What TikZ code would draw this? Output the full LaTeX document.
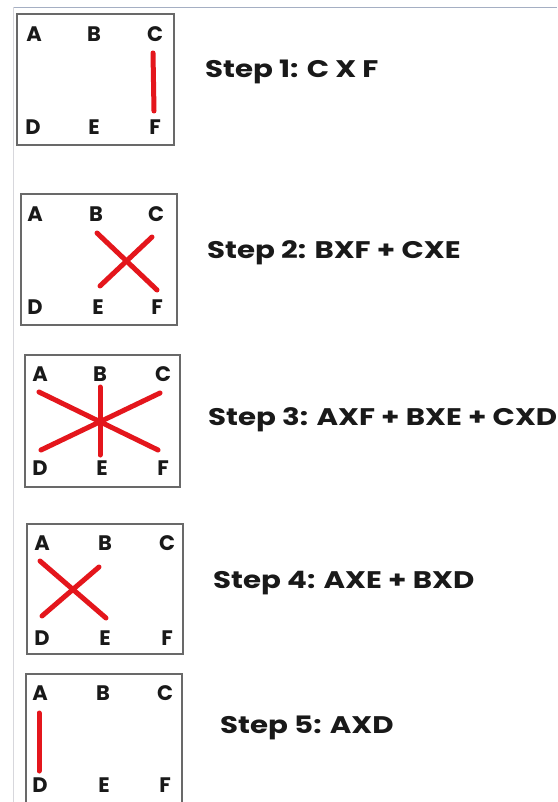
\documentclass[tikz,border=0pt]{standalone}
\usepackage{fontspec}
\setmainfont{Poppins}
\definecolor{redline}{RGB}{228,22,28}
\definecolor{boxgray}{RGB}{105,105,105}
\definecolor{topline}{RGB}{165,175,195}
\definecolor{sideline}{RGB}{215,215,220}
\newcommand\widetxt[1]{\scalebox{1.22}[1]{#1}}
\begin{document}
\begin{tikzpicture}[x=1pt,y=-1pt,
  lbl/.style={font=\fontsize{21}{21}\selectfont\bfseries, inner sep=0pt, text=black!90},
  steptxt/.style={font=\fontsize{24}{24}\selectfont\bfseries, inner sep=0pt, anchor=west, text=black!90},
  gridbox/.style={draw=boxgray, line width=1.4pt},
  cross/.style={draw=redline, line width=5pt, line cap=round}]
\useasboundingbox (0,0) rectangle (557,802);
\fill[white] (0,0) rectangle (557,802);
\draw[topline, line width=1.5pt] (13,7.5) -- (557,7.5);
\draw[sideline, line width=1pt] (13,7.5) -- (13,802);

% ---- Box 1
\draw[gridbox] (17,14) rectangle (174,145);
\node[lbl] (a1) at (34,34) {A};
\node[lbl] (b1) at (94,34) {B};
\node[lbl] (c1) at (155,34) {C};
\node[lbl] (d1) at (33,127) {D};
\node[lbl] (e1) at (94,127) {E};
\node[lbl] (f1) at (155,127) {F};
\coordinate (p1c) at (153,53);
\coordinate (p1f) at (154,111);
\draw[cross] (p1c) -- (p1f);
\node[steptxt] (s1) at (205,72) {\widetxt{Step 1: C X F}};

% ---- Box 2
\draw[gridbox] (21,194) rectangle (177,325);
\node[lbl] (a2) at (35,214) {A};
\node[lbl] (b2) at (96,214) {B};
\node[lbl] (c2) at (156,214) {C};
\node[lbl] (d2) at (35,307) {D};
\node[lbl] (e2) at (98,307) {E};
\node[lbl] (f2) at (157,307) {F};
\coordinate (p2b) at (97,233);
\coordinate (p2f) at (157,290);
\coordinate (p2c) at (152,237);
\coordinate (p2e) at (100,286);
\draw[cross] (p2b) -- (p2f);
\draw[cross] (p2c) -- (p2e);
\node[steptxt] (s2) at (207,253) {\widetxt{Step 2: BXF + CXE}};

% ---- Box 3
\draw[gridbox] (25,355) rectangle (180,487);
\node[lbl] (a3) at (40,374) {A};
\node[lbl] (b3) at (100,374) {B};
\node[lbl] (c3) at (163,374) {C};
\node[lbl] (d3) at (40,468) {D};
\node[lbl] (e3) at (102,468) {E};
\node[lbl] (f3) at (163,468) {F};
\coordinate (p3a) at (39,392);
\coordinate (p3f) at (158,450);
\coordinate (p3c) at (160,393);
\coordinate (p3d) at (41,450);
\coordinate (p3b) at (100,387);
\coordinate (p3e) at (100,455);
\draw[cross] (p3a) -- (p3f);
\draw[cross] (p3c) -- (p3d);
\draw[cross] (p3b) -- (p3e);
\node[steptxt] (s3) at (208,420) {\widetxt{Step 3: AXF + BXE + CXD}};

% ---- Box 4
\draw[gridbox] (27,524) rectangle (183,654);
\node[lbl] (a4) at (42,543) {A};
\node[lbl] (b4) at (105,543) {B};
\node[lbl] (c4) at (167,543) {C};
\node[lbl] (d4) at (42,638) {D};
\node[lbl] (e4) at (105,638) {E};
\node[lbl] (f4) at (167,638) {F};
\coordinate (p4a) at (40,561);
\coordinate (p4e) at (106,618);
\coordinate (p4b) at (99,567);
\coordinate (p4d) at (42,616);
\draw[cross] (p4a) -- (p4e);
\draw[cross] (p4b) -- (p4d);
\node[steptxt] (s4) at (213,583) {\widetxt{Step 4: AXE + BXD}};

% ---- Box 5
\draw[gridbox] (26,810) -- (26,674) -- (182,674) -- (182,810);
\node[lbl] (a5) at (40,693) {A};
\node[lbl] (b5) at (103,693) {B};
\node[lbl] (c5) at (165,693) {C};
\node[lbl] (d5) at (40,785) {D};
\node[lbl] (e5) at (104,785) {E};
\node[lbl] (f5) at (165,785) {F};
\coordinate (p5a) at (39,713);
\coordinate (p5d) at (39,771);
\draw[cross] (p5a) -- (p5d);
\node[steptxt] (s5) at (220,728) {\widetxt{Step 5: AXD}};
\end{tikzpicture}
\end{document}
